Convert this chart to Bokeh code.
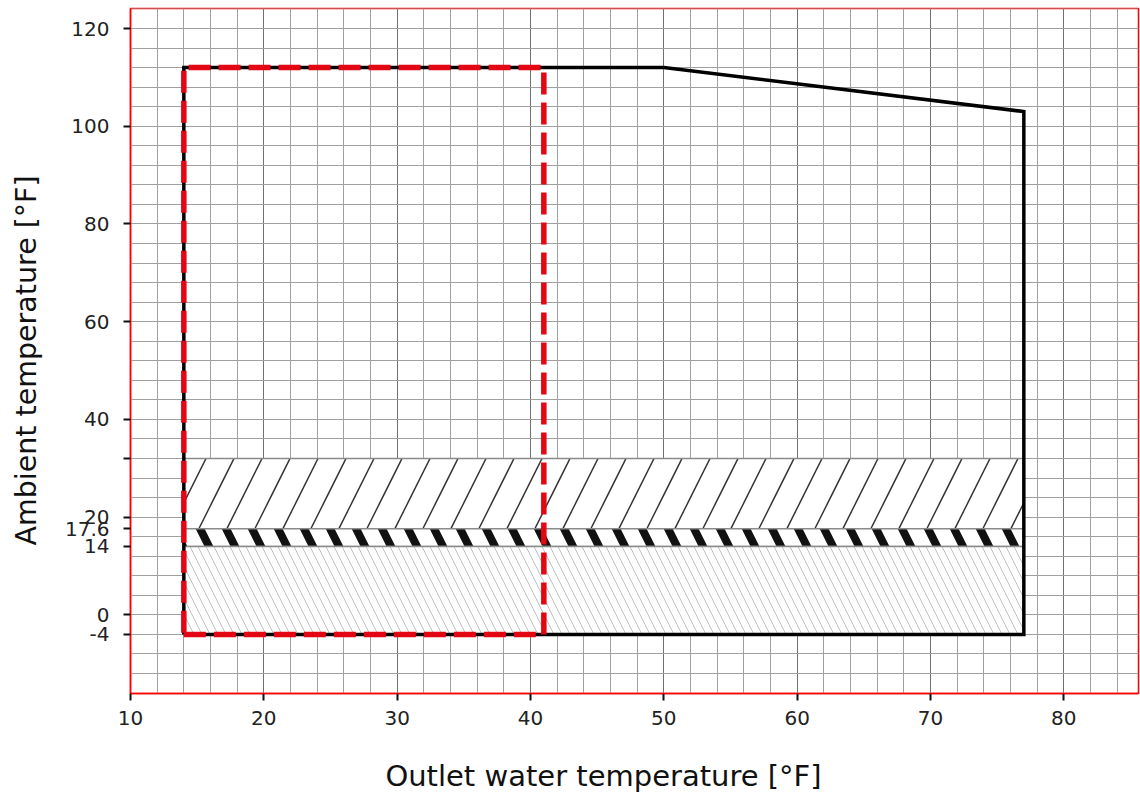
from bokeh.plotting import figure
from bokeh.models import Range1d, FixedTicker, SingleIntervalTicker, Grid, LinearAxis
from bokeh.embed import file_html
from bokeh.resources import INLINE

# Operating envelope (outlet water temperature vs ambient temperature, °F)
envelope_x = [14, 14, 50, 77, 77, 14]
envelope_y = [-4, 112, 112, 103, -4, -4]

# Red dashed sub-envelope
limit_x = [14, 41, 41, 14, 14]
limit_y = [-4, -4, 112, 112, -4]

# Hatched ambient-temperature bands
band_left = [14, 14, 14]
band_right = [77, 77, 77]
band_bottom = [17.6, 14, -4]
band_top = [32, 17.6, 14]

# Axis ticks
x_ticks = [10, 20, 30, 40, 50, 60, 70, 80]
y_ticks = [-4, 0, 14, 17.6, 20, 32, 40, 60, 80, 100, 120]
y_tick_labels = ["-4", "0", "14", "17.6", "20", "", "40", "60", "80", "100", "120"]

x_title = "Outlet water temperature [°F]"
y_title = "Ambient temperature [°F]"

FONT = "DejaVu Sans"

X0, X1 = 10, 85.6
Y0, Y1 = -16.1, 124.1
W, H = 1140, 800
BL, BR, BT, BB = 130, 2, 8, 107

p = figure(
    width=W, height=H,
    x_range=Range1d(X0, X1), y_range=Range1d(Y0, Y1),
    output_backend="svg", toolbar_location=None,
    min_border_left=BL, min_border_right=BR, min_border_top=BT, min_border_bottom=BB,
    background_fill_color="white", border_fill_color="white",
)
p.outline_line_color = "#ff0000"
p.outline_line_width = 1.5

# pixel -> data helpers (used only to place the axis titles off-centre like the reference)
fw = W - BL - BR
fh = H - BT - BB
def px_to_x(px):
    return X0 + (px - BL) * (X1 - X0) / fw
def py_to_y(py):
    return Y1 - (py - BT) * (Y1 - Y0) / fh

# grids
p.xgrid.visible = False
p.ygrid.visible = False
p.add_layout(Grid(dimension=0, ticker=SingleIntervalTicker(interval=2, num_minor_ticks=0),
                  grid_line_color="#a0a0a0", grid_line_width=1))
p.add_layout(Grid(dimension=0, ticker=SingleIntervalTicker(interval=10, num_minor_ticks=0),
                  grid_line_color="#707070", grid_line_width=1))
p.add_layout(Grid(dimension=1, ticker=SingleIntervalTicker(interval=4, num_minor_ticks=0),
                  grid_line_color="#a0a0a0", grid_line_width=1))

# bands
p.quad(left=band_left[0], right=band_right[0], bottom=band_bottom[0], top=band_top[0],
       fill_color="white", line_color="#8a8a8a", line_width=1.5,
       hatch_pattern="right_diagonal_line", hatch_color="#333333",
       hatch_scale=56, hatch_weight=1.5)
p.quad(left=band_left[1], right=band_right[1], bottom=band_bottom[1], top=band_top[1],
       fill_color="white", line_color="#8a8a8a", line_width=1.5,
       hatch_pattern="left_diagonal_line", hatch_color="#111111",
       hatch_scale=52, hatch_weight=8)
p.quad(left=band_left[2], right=band_right[2], bottom=band_bottom[2], top=band_top[2],
       fill_color="white", line_color="#8a8a8a", line_width=1.5,
       hatch_pattern="left_diagonal_line", hatch_color="#c0c0c0",
       hatch_scale=16, hatch_weight=1)

# envelope outline
p.line(envelope_x, envelope_y, line_color="black", line_width=3.5, line_join="miter")
# red dashed limit
p.line(limit_x, limit_y, line_color="#e30613", line_width=5.5, line_dash="22 8", line_join="miter")

# axes
for ax in (p.xaxis[0], p.yaxis[0]):
    ax.axis_line_color = "#ff0000"
    ax.axis_line_width = 1.5
    ax.major_tick_line_color = "#111111"
    ax.major_tick_line_width = 2
    ax.major_tick_in = 0
    ax.major_tick_out = 7
    ax.minor_tick_line_color = None
    ax.major_label_text_font = FONT
    ax.major_label_text_font_size = "20px"
    ax.major_label_text_color = "#222222"

p.xaxis[0].ticker = FixedTicker(ticks=x_ticks)
p.xaxis[0].major_label_standoff = 10

p.yaxis[0].ticker = FixedTicker(ticks=y_ticks)
p.yaxis[0].major_label_overrides = {t: l for t, l in zip(y_ticks, y_tick_labels)}
p.yaxis[0].major_label_standoff = 14

# axis titles: extra label-only axes so they can sit off-centre as in the reference
xt = px_to_x(603)
x_title_axis = LinearAxis(ticker=FixedTicker(ticks=[xt]), major_label_overrides={xt: x_title},
                          axis_line_color=None, major_tick_line_color=None,
                          minor_tick_line_color=None, major_label_standoff=25,
                          major_label_text_font=FONT, major_label_text_font_size="29px",
                          major_label_text_color="#111111")
p.add_layout(x_title_axis, "below")

yt = py_to_y(360)
y_title_axis = LinearAxis(ticker=FixedTicker(ticks=[yt]), major_label_overrides={yt: y_title},
                          axis_line_color=None, major_tick_line_color=None,
                          minor_tick_line_color=None, major_label_standoff=13,
                          major_label_orientation="parallel",
                          major_label_text_font=FONT, major_label_text_font_size="28.5px",
                          major_label_text_color="#111111")
p.add_layout(y_title_axis, "left")

open("out.html", "w").write(file_html(p, INLINE))
